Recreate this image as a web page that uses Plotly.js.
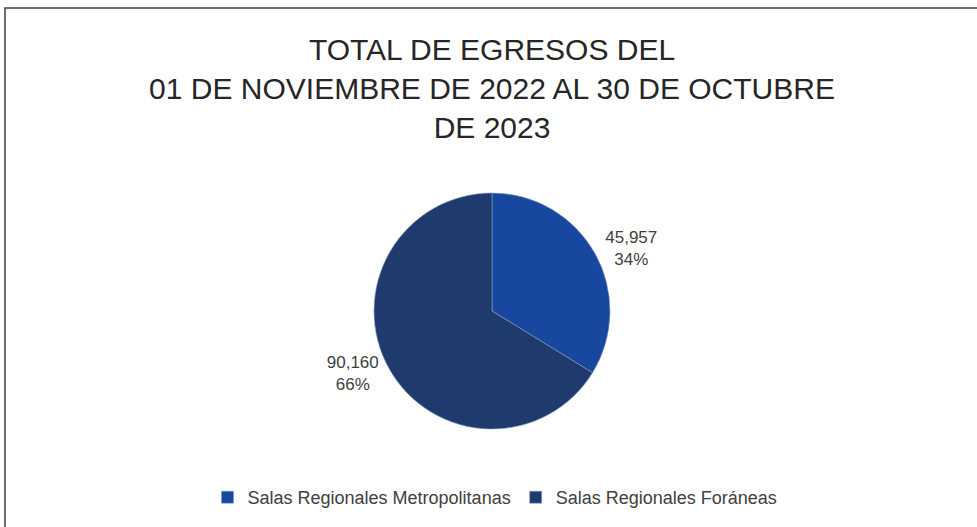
<!DOCTYPE html>
<html>
<head>
<meta charset="utf-8">
<script src="https://cdn.plot.ly/plotly-3.0.1.min.js"></script>
<style>
html,body{margin:0;padding:0;background:#fff;}
#chart{width:977px;height:527px;}
</style>
</head>
<body>
<div id="chart"></div>
<script>
var categories = ["Salas Regionales Metropolitanas", "Salas Regionales Foráneas"];
var values = [45957, 90160];
var colors = ["#17479E", "#1F3A6C"];
var titleText = "TOTAL DE EGRESOS DEL<br>01 DE NOVIEMBRE DE 2022 AL 30 DE OCTUBRE<br>DE 2023";

var W = 977, H = 527;
var cx = 492, cy = 311, r = 118;

var trace = {
  type: "pie",
  labels: categories,
  values: values,
  sort: false,
  direction: "clockwise",
  rotation: 0,
  marker: {colors: colors, line: {color: "#8A9CC4", width: 0.6}},
  texttemplate: "%{value:,}<br>%{percent:.0%}",
  textposition: "outside",
  outsidetextfont: {family: "Liberation Sans, Arial, sans-serif", size: 17, color: "#404040"},
  hoverinfo: "none",
  automargin: false,
  domain: {x: [(cx - r) / W, (cx + r) / W], y: [1 - (cy + r) / H, 1 - (cy - r) / H]}
};

var layout = {
  width: W, height: H,
  margin: {l: 0, r: 0, t: 0, b: 0},
  paper_bgcolor: "#ffffff",
  showlegend: true,
  title: {
    text: titleText,
    font: {family: "Liberation Sans, Arial, sans-serif", size: 30, color: "#262626"},
    x: 492 / W, xanchor: "center",
    y: 1 - 60 / H, yanchor: "top",
    xref: "paper", yref: "container"
  },
  legend: {
    orientation: "h",
    x: 495 / W, xanchor: "center",
    y: 1 - 479 / H, yanchor: "top",
    font: {family: "Liberation Sans, Arial, sans-serif", size: 18, color: "#404040"},
    itemwidth: 30,
    traceorder: "normal"
  },
  shapes: [{
    type: "rect", xref: "paper", yref: "paper",
    x0: 5 / W, x1: 1.05, y0: -0.05, y1: 1 - 8 / H,
    line: {color: "#3f3f3f", width: 1.5}, fillcolor: "rgba(0,0,0,0)"
  }]
};

Plotly.newPlot("chart", [trace], layout, {displayModeBar: false, staticPlot: true});
</script>
</body>
</html>
